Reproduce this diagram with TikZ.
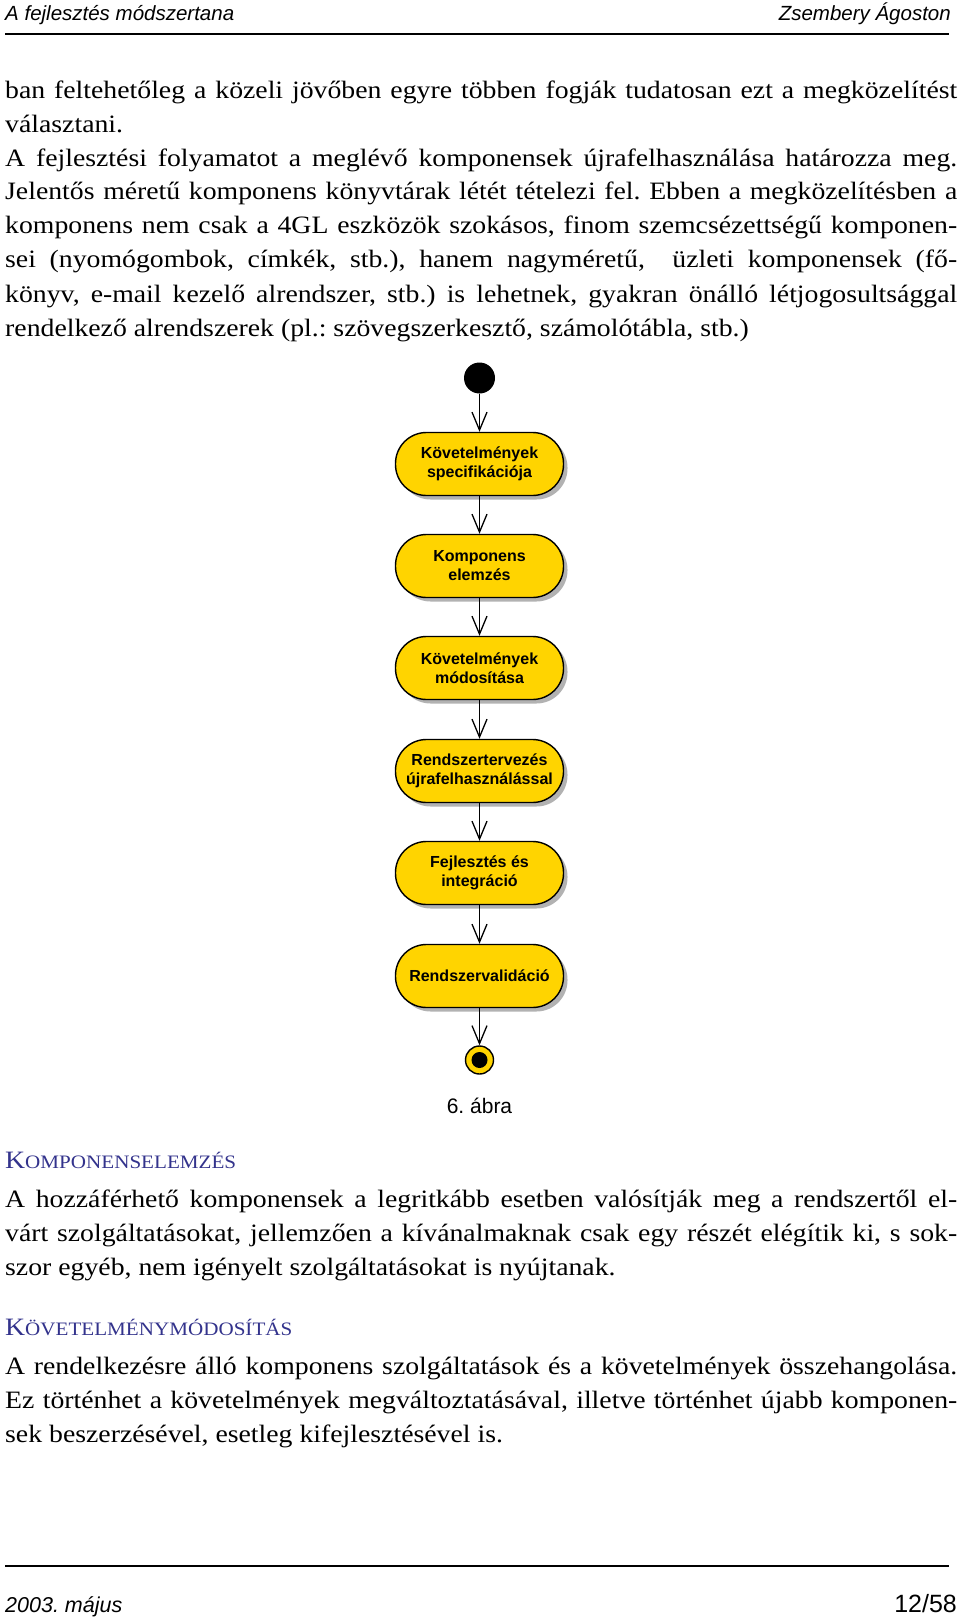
\documentclass[tikz,border=0pt]{standalone}
\usepackage{fontspec}
\setmainfont[FakeStretch=1.11]{Liberation Serif}
\setsansfont{Liberation Sans}
\usetikzlibrary{arrows.meta,shadows}
\frenchspacing

\definecolor{actyellow}{RGB}{255,212,0}
\definecolor{headblue}{RGB}{51,51,140}
\newcommand{\jline}[1]{\makebox[952pt][s]{#1}}

\begin{document}
\begin{tikzpicture}[x=1pt,y=-1pt,
  body/.style={anchor=base west,inner sep=0pt,font=\fontsize{25}{34}\selectfont},
  head/.style={anchor=base west,inner sep=0pt,text=headblue,font=\fontsize{19}{24}\selectfont},
  pagehead/.style={inner sep=0pt,font=\sffamily\fontsize{20.5}{24}\selectfont},
  act/.style={draw,line width=1.4pt,fill=actyellow,rectangle,rounded corners=31pt,
    minimum width=168pt,minimum height=63pt,inner sep=0pt,align=center,
    font=\sffamily\bfseries\fontsize{16}{19}\selectfont,
    drop shadow={shadow xshift=4pt,shadow yshift=-4pt,fill=black!30,opacity=1}},
  flow/.style={line width=1.3pt,-{Straight Barb[length=18pt,width=15pt,line width=1.3pt]}}]
\useasboundingbox (0,0) rectangle (960,1621);

% page header and footer
\node[pagehead,anchor=base west] (hleft) at (5,21) {\itshape A fejlesztés módszertana};
\node[pagehead,anchor=base east] (hright) at (951,21) {\itshape Zsembery Ágoston};
\draw[line width=2pt] (5,34) -- (949,34);
\draw[line width=2pt] (5,1566) -- (949,1566);
\node[pagehead,anchor=base west,font=\sffamily\fontsize{21.5}{24}\selectfont] (fleft) at (5,1612) {\itshape 2003. május};
\node[pagehead,anchor=base east,font=\sffamily\fontsize{25}{26}\selectfont] (fright) at (957,1612) {12/58};

% text above the figure
\node[body] (l1) at (5,99) {\jline{ban feltehetőleg a közeli jövőben egyre többen fogják tudatosan ezt a megközelítést}};
\node[body] (l2) at (5,133) {választani.};
\node[body] (l3) at (5,167) {\jline{A fejlesztési folyamatot a meglévő komponensek újrafelhasználása határozza meg.}};
\node[body] (l4) at (5,200) {\jline{Jelentős méretű komponens könyvtárak létét tételezi fel. Ebben a megközelítésben a}};
\node[body] (l5) at (5,234) {\jline{komponens nem csak a 4GL eszközök szokásos, finom szemcsézettségű komponen-}};
\node[body] (l6) at (5,268) {\jline{sei (nyomógombok, címkék, stb.), hanem nagyméretű, \ üzleti komponensek (fő-}};
\node[body] (l7) at (5,302) {\jline{könyv, e-mail kezelő alrendszer, stb.) is lehetnek, gyakran önálló létjogosultsággal}};
\node[body] (l8) at (5,336) {rendelkező alrendszerek (pl.: szövegszerkesztő, számolótábla, stb.)};

% activity diagram
\node[circle,fill=black,minimum size=31pt,inner sep=0pt] (start) at (479.5,378) {};
\node[act] (spec) at (479.5,464) {Követelmények\\specifikációja};
\node[act] (elem) at (479.5,566) {Komponens\\elemzés};
\node[act] (modo) at (479.5,668) {Követelmények\\módosítása};
\node[act] (terv) at (479.5,771) {Rendszertervezés\\újrafelhasználással};
\node[act] (fejl) at (479.5,873) {Fejlesztés és\\integráció};
\node[act] (vali) at (479.5,976) {Rendszervalidáció};
\node[circle,draw,line width=1.4pt,fill=actyellow,minimum size=28pt,inner sep=0pt] (stop) at (479.5,1060) {};
\fill (stop) circle (8pt);
\foreach \from/\to in {start/spec,spec/elem,elem/modo,modo/terv,terv/fejl,fejl/vali,vali/stop}
  \draw[flow] (\from) -- (\to);
\node[inner sep=0pt,font=\sffamily\fontsize{21}{24}\selectfont] (caption) at (479.5,1106) {6. ábra};

% text below the figure
\node[head] (h1) at (5,1168) {{\fontsize{25}{25}\selectfont K}OMPONENSELEMZÉS};
\node[body] (k1) at (5,1207) {\jline{A hozzáférhető komponensek a legritkább esetben valósítják meg a rendszertől el-}};
\node[body] (k2) at (5,1241) {\jline{várt szolgáltatásokat, jellemzően a kívánalmaknak csak egy részét elégítik ki, s sok-}};
\node[body] (k3) at (5,1275) {szor egyéb, nem igényelt szolgáltatásokat is nyújtanak.};
\node[head] (h2) at (5,1335) {{\fontsize{25}{25}\selectfont K}ÖVETELMÉNYMÓDOSÍTÁS};
\node[body] (m1) at (5,1374) {\jline{A rendelkezésre álló komponens szolgáltatások és a követelmények összehangolása.}};
\node[body] (m2) at (5,1408) {\jline{Ez történhet a követelmények megváltoztatásával, illetve történhet újabb komponen-}};
\node[body] (m3) at (5,1442) {sek beszerzésével, esetleg kifejlesztésével is.};
\end{tikzpicture}
\end{document}
